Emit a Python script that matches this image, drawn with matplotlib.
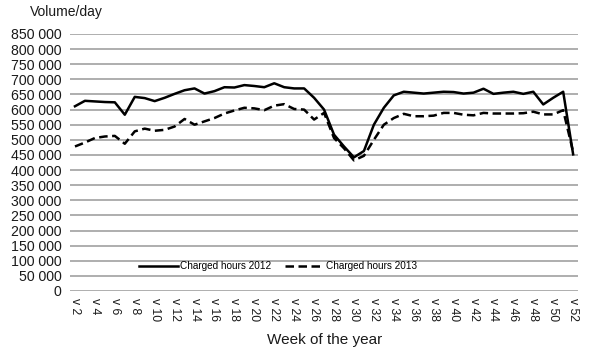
import numpy as np
import matplotlib.pyplot as plt
from matplotlib.ticker import FuncFormatter

plt.rcParams['font.family'] = ['Liberation Sans', 'DejaVu Sans']

# Weeks of the year (v 2 ... v 52)
weeks = list(range(2, 53))

# Charged hours per day, 2012 (solid line)
hours_2012 = [611000, 629000, 627000, 625000, 624000, 583000, 642000, 638000, 628000, 639000,
              652000, 664000, 670000, 653000, 661000, 674000, 673000, 681000, 678000, 674000,
              687000, 674000, 670000, 670000, 639000, 600000, 517000, 478000, 442000, 463000,
              550000, 606000, 647000, 659000, 656000, 653000, 656000, 659000, 658000, 653000,
              656000, 669000, 652000, 656000, 659000, 652000, 659000, 617000, 639000, 659000,
              452000]

# Charged hours per day, 2013 (dashed line)
hours_2013 = [478000, 491000, 506000, 511000, 513000, 487000, 528000, 537000, 530000, 533000,
              544000, 569000, 550000, 561000, 572000, 587000, 597000, 606000, 604000, 598000,
              613000, 618000, 602000, 600000, 567000, 589000, 506000, 472000, 432000, 447000,
              500000, 550000, 572000, 586000, 578000, 578000, 580000, 589000, 589000, 583000,
              581000, 589000, 587000, 587000, 587000, 588000, 593000, 584000, 584000, 598000,
              460000]

tick_weeks = weeks[::2]
tick_labels = ['v %d' % w for w in tick_weeks]

fig = plt.figure(figsize=(6.06, 3.56), dpi=100)
ax = fig.add_axes([0.1155, 0.1826, 0.8385, 0.7219])

ax.plot(weeks, hours_2012, color='black', lw=1.8, label='Charged hours 2012')
ax.plot(weeks, hours_2013, color='black', lw=1.8, ls=(0, (3.4, 1.8)), label='Charged hours 2013')

ax.set_xlim(1.5, 52.5)
ax.set_ylim(0, 850000)
ax.set_yticks(np.arange(0, 850001, 50000))
ax.yaxis.set_major_formatter(FuncFormatter(lambda v, p: '{:,.0f}'.format(v).replace(',', ' ')))
ax.set_xticks(tick_weeks)
ax.set_xticklabels(tick_labels, rotation=270, fontsize=8.8, color='#1a1a1a')

# Gridlines only, no frame
ax.grid(axis='y', color='#a8a8a8', lw=1.3)
ax.set_axisbelow(True)
for s in ax.spines.values():
    s.set_visible(False)
ax.tick_params(axis='both', length=0)
ax.tick_params(axis='y', labelsize=10.2, labelcolor='#1a1a1a', pad=6)
ax.tick_params(axis='x', pad=5)

fig.text(0.05, 0.965, 'Volume/day', fontsize=10, color='#1a1a1a', va='center')
fig.text(0.535, 0.045, 'Week of the year', fontsize=11, color='#1a1a1a', ha='center', va='center')

ax.legend(loc='center', bbox_to_anchor=(0.41, 0.097), ncol=2, frameon=False,
          fontsize=7.2, handlelength=3.9, handletextpad=0.2, columnspacing=1.4)

fig.savefig('out.png', dpi=100)
